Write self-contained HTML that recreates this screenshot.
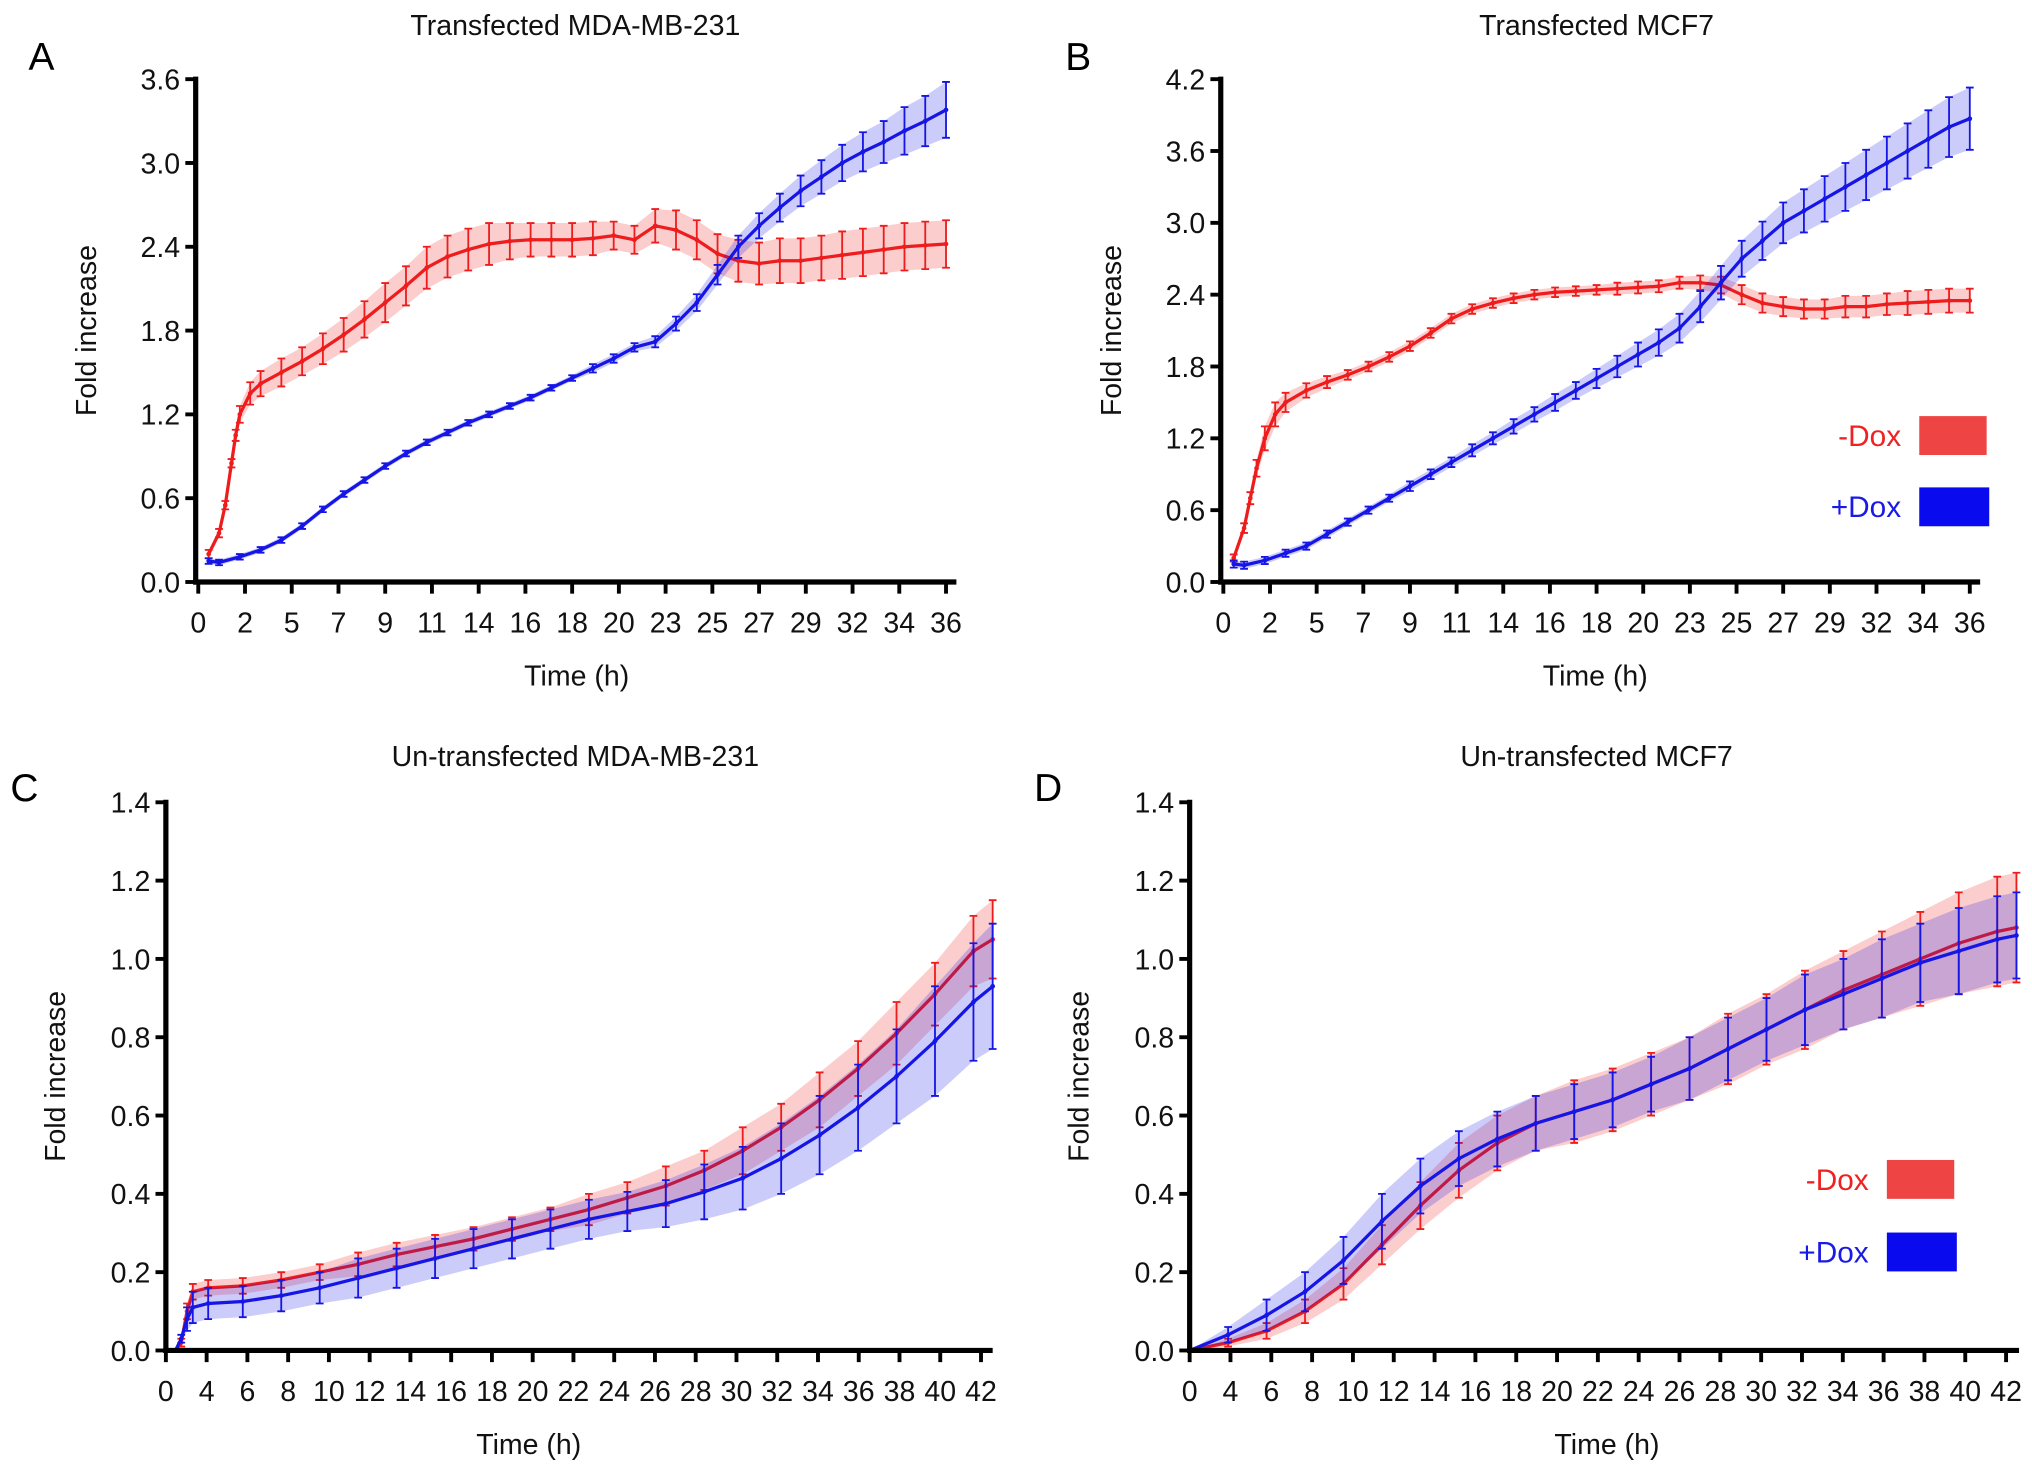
<!DOCTYPE html>
<html><head><meta charset="utf-8"><style>
html,body{margin:0;padding:0;background:#fff;}
svg{display:block;font-family:"Liberation Sans",Arial,sans-serif;}
</style></head><body>
<svg id="fig" width="2032" height="1475" viewBox="0 0 1568 1138" xmlns="http://www.w3.org/2000/svg"></svg>
<script>
// Panel A data
const aTime=[0.5,1,1.3,1.6,1.8,2,2.5,3,4,5,6,7,8,9,10,11,12,13,14,15,16,17,18,19,20,21,22,23,24,25,26,27,28,29,30,31,32,33,34,35,36];
const aRedMean=[0.2,0.35,0.55,0.85,1.05,1.2,1.35,1.42,1.5,1.58,1.67,1.77,1.88,2.0,2.12,2.25,2.33,2.38,2.42,2.44,2.45,2.45,2.45,2.46,2.48,2.45,2.55,2.52,2.45,2.35,2.3,2.28,2.3,2.3,2.32,2.34,2.36,2.38,2.4,2.41,2.42];
const aRedSd=[0.03,0.03,0.03,0.03,0.04,0.06,0.08,0.09,0.1,0.1,0.11,0.12,0.13,0.14,0.14,0.15,0.15,0.15,0.15,0.13,0.12,0.12,0.12,0.12,0.1,0.1,0.12,0.14,0.14,0.14,0.15,0.15,0.16,0.16,0.16,0.17,0.17,0.17,0.17,0.17,0.17];
const aBlueTime=[0.5,1,2,3,4,5,6,7,8,9,10,11,12,13,14,15,16,17,18,19,20,21,22,23,24,25,26,27,28,29,30,31,32,33,34,35,36];
const aBlueMean=[0.15,0.14,0.18,0.23,0.3,0.4,0.52,0.63,0.73,0.83,0.92,1.0,1.07,1.14,1.2,1.26,1.32,1.39,1.46,1.53,1.6,1.68,1.72,1.85,2.0,2.2,2.4,2.55,2.68,2.8,2.9,3.0,3.08,3.15,3.23,3.3,3.38];
const aBlueSd=[0.02,0.02,0.02,0.02,0.02,0.02,0.02,0.02,0.02,0.02,0.02,0.02,0.02,0.02,0.02,0.02,0.02,0.02,0.02,0.03,0.03,0.03,0.04,0.05,0.06,0.07,0.08,0.09,0.1,0.11,0.12,0.13,0.14,0.15,0.17,0.18,0.2];
const aTicks=["0","2","5","7","9","11","14","16","18","20","23","25","27","29","32","34","36"];
const aYTicks=[0,0.6,1.2,1.8,2.4,3.0,3.6];
// Panel B data
const bTime=[0.5,1,1.3,1.6,2,2.5,3,4,5,6,7,8,9,10,11,12,13,14,15,16,17,18,19,20,21,22,23,24,25,26,27,28,29,30,31,32,33,34,35,36];
const bRedMean=[0.2,0.45,0.7,0.95,1.2,1.4,1.5,1.6,1.67,1.73,1.8,1.88,1.97,2.08,2.2,2.28,2.33,2.37,2.4,2.42,2.43,2.44,2.45,2.46,2.47,2.5,2.5,2.48,2.4,2.33,2.3,2.28,2.28,2.3,2.3,2.32,2.33,2.34,2.35,2.35];
const bRedSd=[0.03,0.04,0.05,0.07,0.1,0.1,0.08,0.06,0.05,0.04,0.04,0.04,0.04,0.04,0.04,0.04,0.04,0.04,0.04,0.04,0.04,0.04,0.05,0.05,0.05,0.05,0.06,0.07,0.08,0.08,0.08,0.08,0.08,0.09,0.09,0.09,0.1,0.1,0.1,0.1];
const bBlueTime=[0.5,1,2,3,4,5,6,7,8,9,10,11,12,13,14,15,16,17,18,19,20,21,22,23,24,25,26,27,28,29,30,31,32,33,34,35,36];
const bBlueMean=[0.15,0.14,0.18,0.24,0.3,0.4,0.5,0.6,0.7,0.8,0.9,1.0,1.1,1.2,1.3,1.4,1.5,1.6,1.7,1.8,1.9,2.0,2.12,2.3,2.5,2.7,2.85,3.0,3.1,3.2,3.3,3.4,3.5,3.6,3.7,3.8,3.87];
const bBlueSd=[0.03,0.03,0.03,0.03,0.03,0.03,0.03,0.03,0.03,0.04,0.04,0.04,0.05,0.05,0.06,0.06,0.07,0.07,0.08,0.09,0.1,0.11,0.12,0.13,0.14,0.15,0.16,0.17,0.18,0.19,0.2,0.21,0.22,0.23,0.24,0.25,0.26];
const bTicks=aTicks;
const bYTicks=[0,0.6,1.2,1.8,2.4,3.0,3.6,4.2];
// Panel C data
const cTime=[0,0.5,0.8,1.1,1.4,2.2,4,6,8,10,12,14,16,18,20,22,24,26,28,30,32,34,36,38,40,42,43];
const cRedMean=[0,0,0.02,0.1,0.15,0.16,0.165,0.18,0.2,0.22,0.245,0.265,0.285,0.31,0.335,0.36,0.39,0.42,0.46,0.51,0.57,0.64,0.72,0.81,0.91,1.02,1.05];
const cRedSd=[0,0,0.01,0.02,0.02,0.02,0.02,0.02,0.02,0.03,0.03,0.03,0.03,0.03,0.03,0.04,0.04,0.05,0.05,0.06,0.06,0.07,0.07,0.08,0.08,0.09,0.1];
const cBlueMean=[0,0,0.03,0.08,0.11,0.12,0.125,0.14,0.16,0.185,0.21,0.235,0.26,0.285,0.31,0.335,0.355,0.375,0.405,0.44,0.49,0.55,0.62,0.7,0.79,0.89,0.93];
const cBlueSd=[0,0,0.01,0.03,0.04,0.04,0.04,0.04,0.04,0.05,0.05,0.05,0.05,0.05,0.05,0.05,0.05,0.06,0.07,0.08,0.09,0.1,0.11,0.12,0.14,0.15,0.16];
const cTicks=["0","4","6","8","10","12","14","16","18","20","22","24","26","28","30","32","34","36","38","40","42"];
const cYTicks=[0,0.2,0.4,0.6,0.8,1.0,1.2,1.4];
// Panel D data
const dTime=[0,2,4,6,8,10,12,14,16,18,20,22,24,26,28,30,32,34,36,38,40,42,43];
const dRedMean=[0,0.02,0.05,0.1,0.17,0.27,0.37,0.46,0.53,0.58,0.61,0.64,0.68,0.72,0.77,0.82,0.87,0.92,0.96,1.0,1.04,1.07,1.08];
const dRedSd=[0,0.01,0.02,0.03,0.04,0.05,0.06,0.07,0.07,0.07,0.08,0.08,0.08,0.08,0.09,0.09,0.1,0.1,0.11,0.12,0.13,0.14,0.14];
const dBlueMean=[0,0.04,0.09,0.15,0.23,0.33,0.42,0.49,0.54,0.58,0.61,0.64,0.68,0.72,0.77,0.82,0.87,0.91,0.95,0.99,1.02,1.05,1.06];
const dBlueSd=[0,0.02,0.04,0.05,0.06,0.07,0.07,0.07,0.07,0.07,0.07,0.07,0.07,0.08,0.08,0.08,0.09,0.09,0.1,0.1,0.11,0.11,0.11];
const dTicks=cTicks;
const dYTicks=cYTicks;

const NS="http://www.w3.org/2000/svg";
const svg=document.getElementById('fig');
function mk(tag,attrs,parent){const e=document.createElementNS(NS,tag);for(const k in attrs)e.setAttribute(k,attrs[k]);(parent||svg).appendChild(e);return e;}
function txt(s,attrs,parent){const e=mk('text',attrs,parent);e.textContent=s;return e;}

function drawSeries(g,xs,ys,ts,mean,sd,color){
  const up=ts.map((t,i)=>xs(t)+','+ys(mean[i]+sd[i]));
  const dn=ts.map((t,i)=>xs(t)+','+ys(mean[i]-sd[i])).reverse();
  const band=mk('polygon',{points:up.concat(dn).join(' '),fill:color,'fill-opacity':0.22,stroke:'none'},g);
  
  
  ts.forEach((t,i)=>{
    const x=xs(t),y1=ys(mean[i]+sd[i]),y2=ys(mean[i]-sd[i]);
    const b=mk('path',{d:`M${x},${y1}V${y2}M${x-3},${y1}h6M${x-3},${y2}h6`,stroke:color,'stroke-width':1.4,fill:'none'},g);
    
    
  });
  const line=mk('polyline',{points:ts.map((t,i)=>xs(t)+','+ys(mean[i])).join(' '),stroke:color,'stroke-width':2.5,fill:'none'},g);
  
  
  ts.forEach((t,i)=>{
    const p=mk('circle',{cx:xs(t),cy:ys(mean[i]),r:1.8,fill:color},g);
    
    
  });
}

function panel(c){
  const g=mk('g',{});
  
  
  const xs=t=>c.x0+(t/c.tmax)*(c.x1-c.x0);
  const ys=v=>c.yb-(v/c.ymax)*(c.yb-c.yt);
  txt(c.letter,{x:c.lx,y:c.ly,'font-size':30,fill:'#000'},g);
  txt(c.title,{x:c.tx,y:c.ty,'font-size':22,'text-anchor':'middle',fill:'#111'},g);
  drawSeries(g,xs,ys,c.rt,c.rm,c.rs,'#ee1c1c');
  drawSeries(g,xs,ys,c.bt,c.bm,c.bs,'#1515e6');
  mk('line',{x1:c.ax,y1:c.yt-2,x2:c.ax,y2:c.yb+2,stroke:'#000','stroke-width':4},g);
  c.yticks.forEach(v=>{
    mk('line',{x1:c.ax-8,y1:ys(v),x2:c.ax,y2:ys(v),stroke:'#000','stroke-width':3},g);
    const t=txt(v.toFixed(1),{x:c.ax-12,y:ys(v)+8,'font-size':22,'text-anchor':'end',fill:'#111'},g);
    
  });
  mk('line',{x1:c.ax-2,y1:c.yb,x2:c.axEnd,y2:c.yb,stroke:'#000','stroke-width':4},g);
  const n=c.xticks.length;
  c.xticks.forEach((s,i)=>{
    const x=c.tx0+i*(c.tx1-c.tx0)/(n-1);
    mk('line',{x1:x,y1:c.yb,x2:x,y2:c.yb+9,stroke:'#000','stroke-width':3},g);
    const t=txt(s,{x:x,y:c.yb+39,'font-size':22,'text-anchor':'middle',fill:'#111'},g);
    
  });
  txt('Time (h)',{x:c.xlx,y:c.yb+80,'font-size':22,'text-anchor':'middle',fill:'#111'},g);
  const yl=txt('Fold increase',{x:0,y:0,'font-size':22,'text-anchor':'middle',fill:'#111',transform:`translate(${c.ylx},${(c.yt+c.yb)/2}) rotate(-90)`},g);
  
  if(c.leg){
    const L=c.leg;
    const lg=mk('g',{},g);
    
    
    txt('-Dox',{x:L.tx,y:L.y1+8,'font-size':23,'text-anchor':'end',fill:'#ee2222'},lg);
    mk('rect',{x:L.rx,y:L.y1-15,width:L.w,height:30,fill:'#ee4444'},lg);
    txt('+Dox',{x:L.tx,y:L.y2+8,'font-size':23,'text-anchor':'end',fill:'#1a1ae6'},lg);
    mk('rect',{x:L.rx,y:L.y2-15,width:L.w+2,height:30,fill:'#0a0aee'},lg);
  }
}

panel({name:'panel-a',letter:'A',lx:22,ly:54,title:'Transfected MDA-MB-231',tx:444,ty:27,
  ax:151,axEnd:738,yt:61,yb:449,ymax:3.6,x0:153,x1:730,tmax:36,tx0:153,tx1:730,
  yticks:aYTicks,xticks:aTicks,xlx:445,ylx:74,
  rt:aTime,rm:aRedMean,rs:aRedSd,bt:aBlueTime,bm:aBlueMean,bs:aBlueSd});
panel({name:'panel-b',letter:'B',lx:822,ly:54,title:'Transfected MCF7',tx:1232,ty:27,
  ax:942,axEnd:1528,yt:61,yb:449,ymax:4.2,x0:944,x1:1520,tmax:36,tx0:944,tx1:1520,
  yticks:bYTicks,xticks:bTicks,xlx:1231,ylx:865,
  rt:bTime,rm:bRedMean,rs:bRedSd,bt:bBlueTime,bm:bBlueMean,bs:bBlueSd,
  leg:{tx:1467,rx:1481,w:52,y1:336,y2:391}});
panel({name:'panel-c',letter:'C',lx:8,ly:618,title:'Un-transfected MDA-MB-231',tx:444,ty:591,
  ax:128,axEnd:766,yt:619,yb:1042,ymax:1.4,x0:128,x1:766,tmax:43,tx0:128,tx1:757,
  yticks:cYTicks,xticks:cTicks,xlx:408,ylx:50,
  rt:cTime,rm:cRedMean,rs:cRedSd,bt:cTime,bm:cBlueMean,bs:cBlueSd});
panel({name:'panel-d',letter:'D',lx:798,ly:618,title:'Un-transfected MCF7',tx:1232,ty:591,
  ax:918,axEnd:1558,yt:619,yb:1042,ymax:1.4,x0:918,x1:1556,tmax:43,tx0:918,tx1:1548,
  yticks:dYTicks,xticks:dTicks,xlx:1240,ylx:840,
  rt:dTime,rm:dRedMean,rs:dRedSd,bt:dTime,bm:dBlueMean,bs:dBlueSd,
  leg:{tx:1442,rx:1456,w:52,y1:910,y2:966}});
</script>
</body></html>
